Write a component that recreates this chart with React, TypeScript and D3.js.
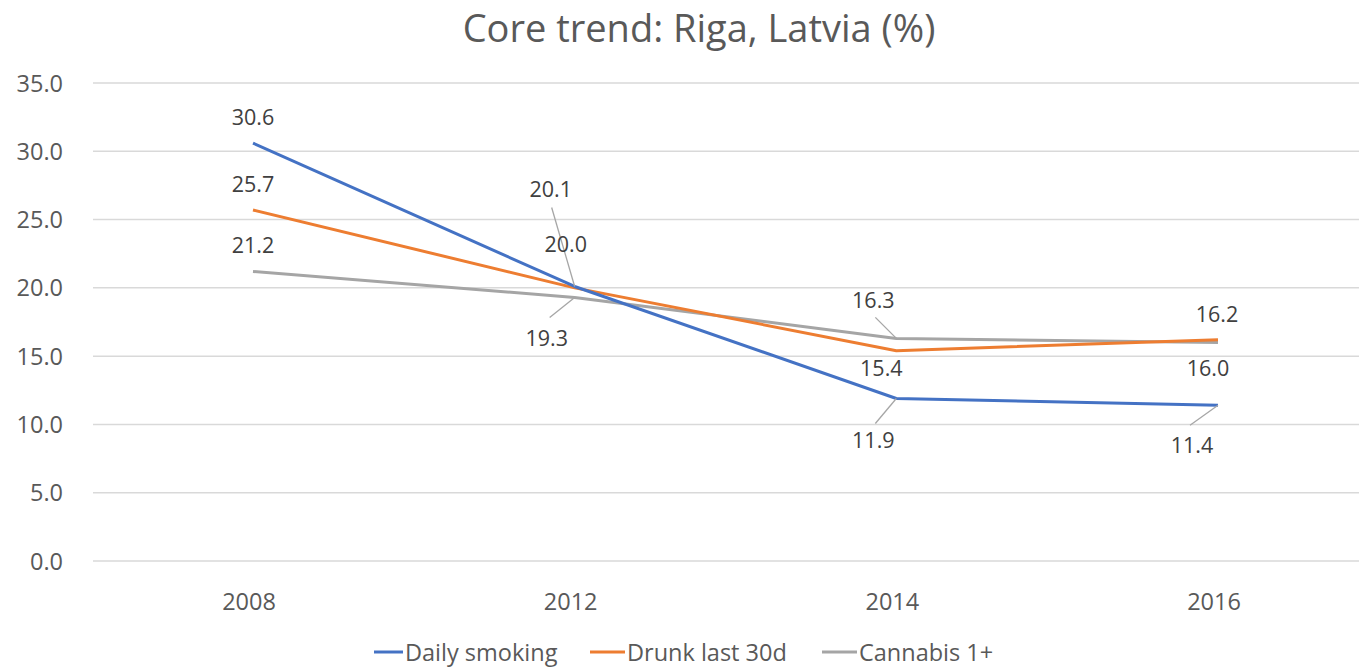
import React from "react";
import * as d3 from "d3";

// Survey years and series (percent of respondents)
const years = ["2008", "2012", "2014", "2016"];
const dailySmoking = [30.6, 20.1, 11.9, 11.4];
const drunkLast30d = [25.7, 20.0, 15.4, 16.2];
const cannabis = [21.2, 19.3, 16.3, 16.0];
const yTicks = [0, 5, 10, 15, 20, 25, 30, 35];

const seriesNames = ["Daily smoking", "Drunk last 30d", "Cannabis 1+"];
const seriesValues = [dailySmoking, drunkLast30d, cannabis];
const seriesColors = ["#4472C4", "#ED7D31", "#A5A5A5"];

// Label placement per series/point: text offset [dx, dy-to-baseline] from the point,
// plus an optional leader-line start offset.
type LabelPos = { dx: number; dy: number; leader?: [number, number] };
const labelPlacement: LabelPos[][] = [
  [
    { dx: 0, dy: -18 },
    { dx: -24, dy: -89, leader: [-23, -79] },
    { dx: -23, dy: 50, leader: [-21, 25] },
    { dx: -26, dy: 48, leader: [-28, 20] },
  ],
  [
    { dx: 0, dy: -18 },
    { dx: -9, dy: -36 },
    { dx: -15, dy: 25 },
    { dx: -1, dy: -18 },
  ],
  [
    { dx: 0, dy: -18 },
    { dx: -28, dy: 49, leader: [-25, 20] },
    { dx: -23, dy: -30, leader: [-21, -21] },
    { dx: -10, dy: 34 },
  ],
];

const W = 1359;
const H = 667;
const FONT = "'Open Sans', 'Noto Sans', sans-serif";
const PLOT_LEFT = 93;

export default function App() {
  const x = d3.scalePoint<string>().domain(years).range([253, 1218]);
  const y = d3.scaleLinear().domain([0, 35]).range([561, 83]);

  const line = d3
    .line<number>()
    .x((_, i) => x(years[i]) as number)
    .y((v) => y(v));

  const legendItems = [
    { x: 374, textX: 405 },
    { x: 590, textX: 627 },
    { x: 822, textX: 859 },
  ];

  return (
    <svg
      width={W}
      height={H}
      style={{ position: "absolute", left: 0, top: 0, display: "block", background: "#fff" }}
      fontFamily={FONT}
    >
      <text x={699} y={42} textAnchor="middle" fontSize={38} fill="#595959">
        Core trend: Riga, Latvia (%)
      </text>

      {/* gridlines and y tick labels */}
      {yTicks.map((t) => (
        <line key={`g${t}`} x1={PLOT_LEFT} x2={W} y1={y(t)} y2={y(t)} stroke="#D9D9D9" strokeWidth={1.5} />
      ))}
      {yTicks.map((t) => (
        <text key={`t${t}`} x={63} y={y(t) + 8.5} textAnchor="end" fontSize={23.5} fill="#595959">
          {t.toFixed(1)}
        </text>
      ))}

      {/* x tick labels */}
      {years.map((yr) => (
        <text key={yr} x={(x(yr) as number) - 4} y={610} textAnchor="middle" fontSize={23.5} fill="#595959">
          {yr}
        </text>
      ))}

      {/* series lines, drawn back to front */}
      {[2, 1, 0].map((s) => (
        <path
          key={s}
          d={line(seriesValues[s]) || ""}
          fill="none"
          stroke={seriesColors[s]}
          strokeWidth={3}
          strokeLinejoin="round"
        />
      ))}

      {/* data labels with optional leader lines */}
      {seriesValues.map((vals, s) =>
        vals.map((v, i) => {
          const px = x(years[i]) as number;
          const py = y(v);
          const pos = labelPlacement[s][i];
          return (
            <g key={`${s}-${i}`}>
              {pos.leader && (
                <line
                  x1={px + pos.leader[0]}
                  y1={py + pos.leader[1]}
                  x2={px}
                  y2={py}
                  stroke="#A6A6A6"
                  strokeWidth={1.3}
                />
              )}
              <text x={px + pos.dx} y={py + pos.dy} textAnchor="middle" fontSize={21.5} fill="#404040">
                {v.toFixed(1)}
              </text>
            </g>
          );
        })
      )}

      {/* legend */}
      {seriesNames.map((name, s) => (
        <g key={name}>
          <line
            x1={legendItems[s].x}
            x2={legendItems[s].textX - 2}
            y1={652}
            y2={652}
            stroke={seriesColors[s]}
            strokeWidth={3}
          />
          <text x={legendItems[s].textX} y={661} fontSize={23.5} fill="#595959">
            {name}
          </text>
        </g>
      ))}
    </svg>
  );
}
